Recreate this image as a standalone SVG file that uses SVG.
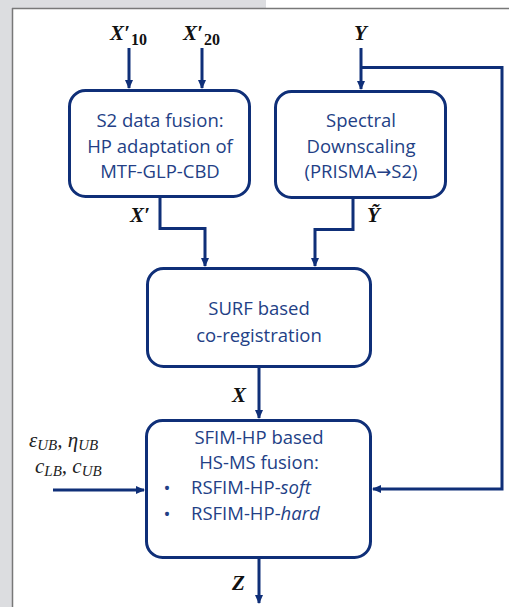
<svg xmlns="http://www.w3.org/2000/svg" width="509" height="607" viewBox="0 0 509 607">
<defs>
<marker id="ah" markerWidth="10" markerHeight="10" refX="8" refY="5" orient="auto" markerUnits="userSpaceOnUse">
<path d="M0,1 L9,5 L0,9 Z" fill="#0f2f78"/>
</marker>
<style>
.box{fill:#fff;stroke:#0f2f78;stroke-width:3}
.ln{fill:none;stroke:#0f2f78;stroke-width:3}
.t{font-family:"Open Sans","Liberation Sans",sans-serif;font-size:18.5px;fill:#233f86;text-anchor:middle}
.m{font-family:"Liberation Serif","DejaVu Serif",serif;font-weight:bold;font-style:italic;font-size:21px;fill:#111}
.s{font-family:"Liberation Serif","DejaVu Serif",serif;font-weight:bold;font-size:16px;fill:#111}
.mi{font-family:"Liberation Serif","DejaVu Serif",serif;font-style:italic;font-size:21px;fill:#222}
.sub{font-size:15px}
</style>
</defs>
<rect x="0" y="0" width="509" height="607" fill="#dcdde0"/>
<rect x="13" y="9" width="496" height="598" fill="#fff"/>
<rect x="266" y="0" width="243" height="8" fill="#fff"/>
<line x1="12" y1="8.5" x2="509" y2="8.5" stroke="#787878" stroke-width="1.5"/>
<line x1="12.5" y1="8" x2="12.5" y2="607" stroke="#787878" stroke-width="1.5"/>

<g id="connectors">
<line class="ln" x1="129" y1="48" x2="129" y2="88" marker-end="url(#ah)"/>
<line class="ln" x1="202" y1="48" x2="202" y2="88" marker-end="url(#ah)"/>
<line class="ln" x1="361" y1="48" x2="361" y2="89" marker-end="url(#ah)"/>
<polyline class="ln" points="361,67.5 502,67.5 502,489 373,489" marker-end="url(#ah)"/>
<polyline class="ln" points="160,197 160,228.5 205,228.5 205,266" marker-end="url(#ah)"/>
<polyline class="ln" points="353,198 353,229.5 315,229.5 315,266" marker-end="url(#ah)"/>
<line class="ln" x1="259" y1="366" x2="259" y2="418" marker-end="url(#ah)"/>
<line class="ln" x1="53" y1="490" x2="144" y2="490" marker-end="url(#ah)"/>
<line class="ln" x1="259" y1="558" x2="259" y2="603" marker-end="url(#ah)"/>
</g>

<g id="box1">
<rect class="box" x="69.5" y="90.5" width="180" height="106" rx="16"/>
<text class="t" x="160" y="127">S2 data fusion:</text>
<text class="t" x="160" y="153">HP adaptation of</text>
<text class="t" x="160" y="178">MTF-GLP-CBD</text>
</g>
<g id="box2">
<rect class="box" x="275.5" y="91.5" width="170" height="106" rx="16"/>
<text class="t" x="361" y="127">Spectral</text>
<text class="t" x="361" y="153">Downscaling</text>
<text class="t" x="361" y="178">(PRISMA<tspan font-family="DejaVu Sans" font-size="18px">→</tspan>S2)</text>
</g>
<g id="box3">
<rect class="box" x="147.5" y="268.5" width="223" height="98" rx="16"/>
<text class="t" x="259" y="315">SURF based</text>
<text class="t" x="259" y="342">co-registration</text>
</g>
<g id="box4">
<rect class="box" x="146.5" y="420.5" width="224" height="137" rx="16"/>
<text class="t" x="259" y="444">SFIM-HP based</text>
<text class="t" x="259" y="469">HS-MS fusion:</text>
<text class="t" x="167" y="495" font-size="22px">•</text>
<text class="t" x="191" y="494" style="text-anchor:start">RSFIM-HP-<tspan font-style="italic">soft</tspan></text>
<text class="t" x="167" y="521" font-size="22px">•</text>
<text class="t" x="191" y="520" style="text-anchor:start">RSFIM-HP-<tspan font-style="italic">hard</tspan></text>
</g>

<g id="labels">
<text class="m" x="110" y="40">X′</text>
<text class="s" x="131" y="45">10</text>
<text class="m" x="183" y="40">X′</text>
<text class="s" x="204" y="45">20</text>
<text class="m" x="354" y="40">Y</text>
<text class="m" x="130" y="222">X′</text>
<text class="m" x="367" y="222">Ỹ</text>
<text class="m" x="232" y="402">X</text>
<text class="m" x="232" y="590">Z</text>
<text class="mi" x="29" y="447">ε<tspan class="sub" dy="3">UB</tspan><tspan dy="-3">, η</tspan><tspan class="sub" dy="3">UB</tspan></text>
<text class="mi" x="35" y="473">c<tspan class="sub" dy="3">LB</tspan><tspan dy="-3">, c</tspan><tspan class="sub" dy="3">UB</tspan></text>
</g>
</svg>
